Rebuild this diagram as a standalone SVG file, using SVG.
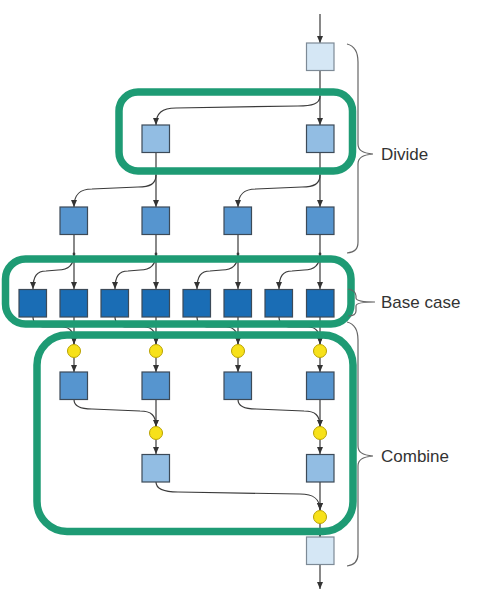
<svg xmlns="http://www.w3.org/2000/svg" width="499" height="590" viewBox="0 0 499 590">
<defs>
<marker id="ah" markerWidth="8" markerHeight="7" refX="7" refY="3.5" orient="auto" markerUnits="userSpaceOnUse">
<path d="M0,0.5 L7,3.5 L0,6.5 Z" fill="#333"/>
</marker>
<style>
.c{fill:none;stroke:#3a3a3a;stroke-width:1.2;marker-end:url(#ah)}
.l{fill:none;stroke:#3a3a3a;stroke-width:1.2}
.b{stroke:#3c4a58;stroke-width:1.2}
.b0{fill:#d5e7f5;stroke:#7d8a96}
.b1{fill:#92bde3}
.b2{fill:#5695cf}
.b3{fill:#1a6db5}
.y{fill:#f7e11a;stroke:#b8a100;stroke-width:1}
.g{fill:none;stroke:#1e9b74;stroke-width:7.5}
.br{fill:none;stroke:#666;stroke-width:1.2}
.t{font-family:"Liberation Sans",Arial,sans-serif;font-size:17px;fill:#333}
.d{fill:#3a3a3a}
</style>
</defs>
<rect width="499" height="590" fill="#fff"/>
<g id="connectors">
<path class="c" d="M320,14 L320,43"/>
<path class="c" d="M320,70 L320,125"/>
<path class="c" d="M320,96 C320,104 312,106 298,106 L176,108 C162,108 156,113 156,125"/>
<path class="c" d="M156,152 L156,207"/>
<path class="c" d="M156,175 C156,184 150,187 138,187 L92,189 C80,189 74,194 74,207"/>
<path class="c" d="M320,152 L320,207"/>
<path class="c" d="M320,175 C320,184 314,187 302,187 L256,189 C244,189 238,194 238,207"/>
<path class="c" d="M74,234 L74,289"/>
<path class="c" d="M74,254 C74,265 68,270 58,270 L46,271 C37,271 33,276 33,289"/>
<path class="c" d="M156,234 L156,289"/>
<path class="c" d="M156,254 C156,265 150,270 140,270 L128,271 C119,271 115,276 115,289"/>
<path class="c" d="M238,234 L238,289"/>
<path class="c" d="M238,254 C238,265 232,270 222,270 L210,271 C201,271 197,276 197,289"/>
<path class="c" d="M320,234 L320,289"/>
<path class="c" d="M320,254 C320,265 314,270 304,270 L292,271 C283,271 279,276 279,289"/>
<circle class="d" cx="74" cy="254" r="1.4"/>
<circle class="d" cx="156" cy="254" r="1.4"/>
<circle class="d" cx="238" cy="254" r="1.4"/>
<circle class="d" cx="320" cy="254" r="1.4"/>
<path class="c" d="M74,317 L74,344"/>
<path class="c" d="M33,317 C33,324 38,327 46,327 L62,327 C70,327 74,331 74,344"/>
<path class="c" d="M156,317 L156,344"/>
<path class="c" d="M115,317 C115,324 120,327 128,327 L144,327 C152,327 156,331 156,344"/>
<path class="c" d="M238,317 L238,344"/>
<path class="c" d="M197,317 C197,324 202,327 210,327 L226,327 C234,327 238,331 238,344"/>
<path class="c" d="M320,317 L320,344"/>
<path class="c" d="M279,317 C279,324 284,327 292,327 L308,327 C316,327 320,331 320,344"/>
<path class="c" d="M74,358 L74,372"/>
<path class="c" d="M156,358 L156,372"/>
<path class="c" d="M238,358 L238,372"/>
<path class="c" d="M320,358 L320,372"/>
<path class="c" d="M156,399.5 L156,426.5"/>
<path class="c" d="M74,399.5 C74,406 80,409 92,409 L140,411 C151,411 156,415 156,426.5"/>
<path class="c" d="M320,399.5 L320,426.5"/>
<path class="c" d="M238,399.5 C238,406 244,409 256,409 L304,411 C315,411 320,415 320,426.5"/>
<path class="c" d="M156,440 L156,454"/>
<path class="c" d="M320,440 L320,454"/>
<path class="c" d="M320,482 L320,510"/>
<path class="c" d="M156,482 C156,489 163,492 178,492 L300,494 C314,494 320,499 320,510"/>
<path class="c" d="M320,524 L320,537"/>
<path class="c" d="M320,564.5 L320,589"/>
</g>
<g id="n0"><rect class="b b0" x="306.5" y="43" width="27.5" height="27.5"/></g>
<g id="n1a"><rect class="b b1" x="142" y="125" width="27.5" height="27.5"/></g>
<g id="n1b"><rect class="b b1" x="306.5" y="125" width="27.5" height="27.5"/></g>
<g id="n2a"><rect class="b b2" x="60" y="207" width="27.5" height="27.5"/></g>
<g id="n2b"><rect class="b b2" x="142" y="207" width="27.5" height="27.5"/></g>
<g id="n2c"><rect class="b b2" x="224" y="207" width="27.5" height="27.5"/></g>
<g id="n2d"><rect class="b b2" x="306.5" y="207" width="27.5" height="27.5"/></g>
<g id="n3a"><rect class="b b3" x="19" y="289.5" width="27.5" height="27.5"/></g>
<g id="n3b"><rect class="b b3" x="60" y="289.5" width="27.5" height="27.5"/></g>
<g id="n3c"><rect class="b b3" x="101" y="289.5" width="27.5" height="27.5"/></g>
<g id="n3d"><rect class="b b3" x="142" y="289.5" width="27.5" height="27.5"/></g>
<g id="n3e"><rect class="b b3" x="183" y="289.5" width="27.5" height="27.5"/></g>
<g id="n3f"><rect class="b b3" x="224" y="289.5" width="27.5" height="27.5"/></g>
<g id="n3g"><rect class="b b3" x="265" y="289.5" width="27.5" height="27.5"/></g>
<g id="n3h"><rect class="b b3" x="306.5" y="289.5" width="27.5" height="27.5"/></g>
<g id="y1a"><circle class="y" cx="74" cy="351" r="6.5"/></g>
<g id="y1b"><circle class="y" cx="156" cy="351" r="6.5"/></g>
<g id="y1c"><circle class="y" cx="238" cy="351" r="6.5"/></g>
<g id="y1d"><circle class="y" cx="320" cy="351" r="6.5"/></g>
<g id="n4a"><rect class="b b2" x="60" y="372" width="27.5" height="27.5"/></g>
<g id="n4b"><rect class="b b2" x="142" y="372" width="27.5" height="27.5"/></g>
<g id="n4c"><rect class="b b2" x="224" y="372" width="27.5" height="27.5"/></g>
<g id="n4d"><rect class="b b2" x="306.5" y="372" width="27.5" height="27.5"/></g>
<g id="y2a"><circle class="y" cx="156" cy="433" r="6.5"/></g>
<g id="y2b"><circle class="y" cx="320" cy="433" r="6.5"/></g>
<g id="n5a"><rect class="b b1" x="142" y="454.5" width="27.5" height="27.5"/></g>
<g id="n5b"><rect class="b b1" x="306.5" y="454.5" width="27.5" height="27.5"/></g>
<g id="y3"><circle class="y" cx="320" cy="517" r="6.5"/></g>
<g id="n6"><rect class="b b0" x="306.5" y="537" width="27.5" height="27.5"/></g>
<g id="divide">
<rect class="g" x="119" y="92" width="233.5" height="79" rx="19"/>
<path class="br" d="M347,44 C355,46 358,52 358,62 L358,144 C358,150 362,153 373,154 C362,155 358,158 358,164 L358,242 C358,249 355,252 347,253"/>
<text class="t" x="381" y="160">Divide</text>
</g>
<g id="basecase">
<rect class="g" x="5.5" y="259" width="345.5" height="65" rx="20"/>
<path class="br" d="M348,289 C353,290 356,292 356,296 L356,298 C356,300 359,302 375,302 C359,302 356,304 356,306 L356,311 C356,314 353,316 348,316"/>
<text class="t" x="381" y="308">Base case</text>
</g>
<g id="combine">
<rect class="g" x="37" y="335" width="316" height="196.5" rx="30"/>
<path class="br" d="M347,322 C355,324 358,330 358,340 L358,446 C358,452 362,455 373,456 C362,457 358,460 358,466 L358,554 C358,561 355,565 347,566"/>
<text class="t" x="381" y="461.5">Combine</text>
</g>
</svg>
